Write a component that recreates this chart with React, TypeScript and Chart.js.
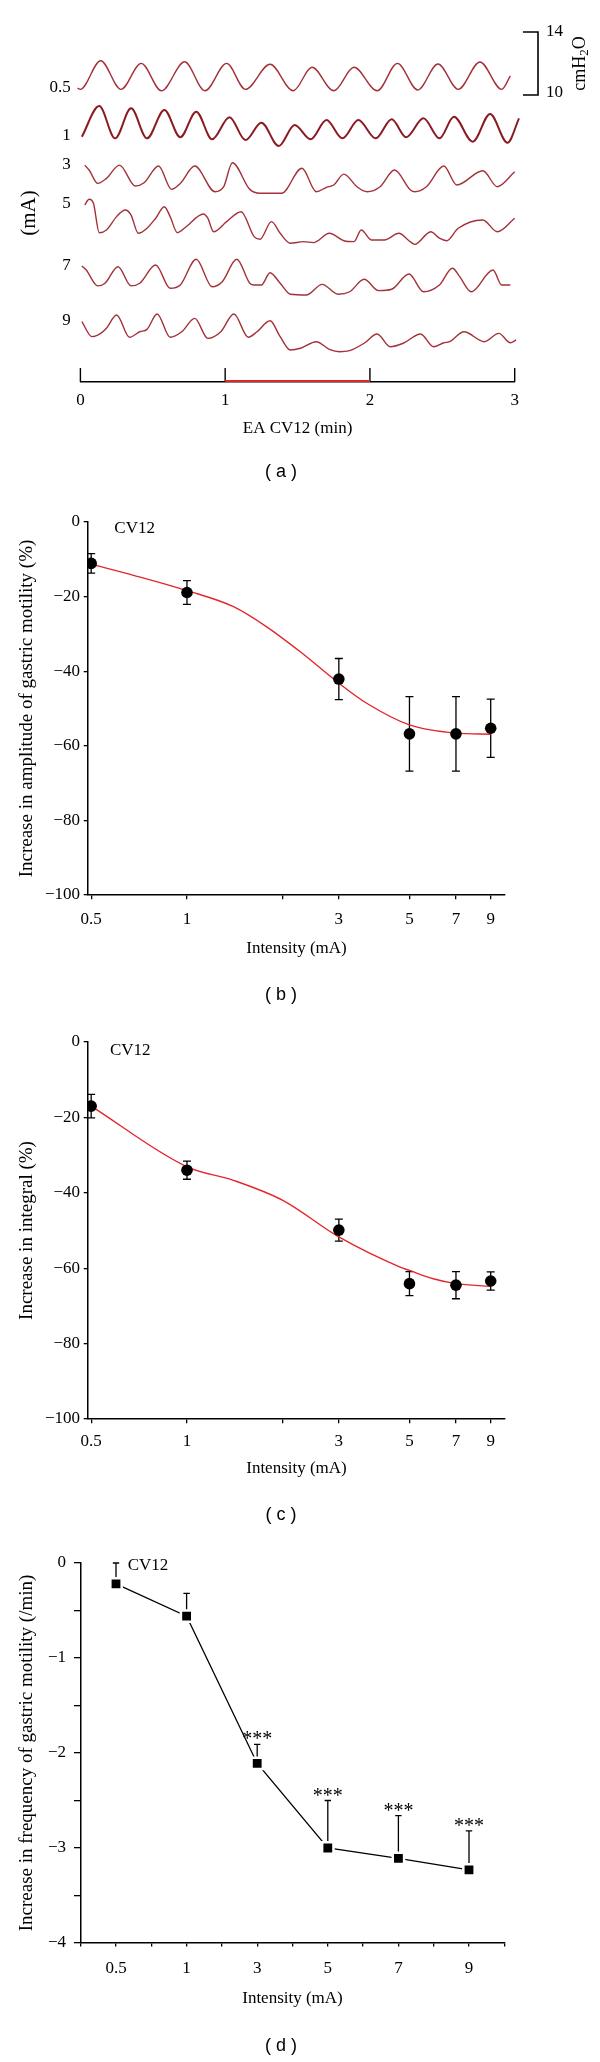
import React, { useEffect, useRef } from 'react';
import { Chart, registerables } from 'chart.js';

Chart.register(...registerables);

const SERIF = '"Liberation Serif", "Times New Roman", Times, serif';
const SANS = '"Liberation Sans", Arial, sans-serif';

// ---------------- Panel (a): intragastric pressure traces ----------------
const TRACE_LABELS = ['0.5', '1', '3', '5', '7', '9']; // intensity (mA)
const TIME_TICKS = [0, 1, 2, 3]; // min
const EA_PERIOD = [1, 2]; // min, EA applied to CV12
const SCALE_BAR = [10, 14]; // cmH2O

// time (min) / pressure (cmH2O) samples
const T_05 = [-0.02, 0.0, 0.14, 0.28, 0.42, 0.56, 0.72, 0.86, 1.01, 1.14, 1.31, 1.47, 1.6, 1.75, 1.89, 2.05, 2.19, 2.33, 2.47, 2.61, 2.76, 2.91, 2.97];
const P_05 = [10.43, 10.36, 12.18, 10.36, 12.01, 10.27, 12.11, 10.27, 12.01, 10.36, 11.95, 10.27, 11.76, 10.27, 11.76, 10.27, 12.01, 10.32, 11.97, 10.36, 12.1, 10.36, 11.21];

const T_1 = [0.01, 0.13, 0.24, 0.35, 0.46, 0.58, 0.69, 0.8, 0.91, 1.03, 1.14, 1.25, 1.37, 1.48, 1.59, 1.7, 1.81, 1.92, 2.04, 2.15, 2.25, 2.37, 2.48, 2.58, 2.71, 2.83, 2.95, 3.03];
const P_1 = [10.65, 12.6, 10.55, 12.46, 10.55, 12.35, 10.62, 12.24, 10.49, 11.89, 10.44, 11.54, 10.06, 11.4, 10.49, 11.71, 10.55, 11.71, 10.55, 11.76, 10.62, 11.82, 10.55, 11.92, 10.34, 12.1, 10.27, 11.82];

const T_3 = [0.03, 0.06, 0.12, 0.18, 0.27, 0.38, 0.44, 0.54, 0.63, 0.69, 0.79, 0.93, 0.99, 1.05, 1.17, 1.24, 1.39, 1.53, 1.63, 1.7, 1.75, 1.82, 1.91, 1.98, 2.07, 2.17, 2.28, 2.31, 2.39, 2.51, 2.6, 2.78, 2.88, 3.0];
const P_3 = [11.9, 11.59, 10.74, 11.06, 11.9, 10.57, 10.78, 11.84, 10.36, 10.74, 11.84, 10.21, 10.53, 12.05, 10.36, 10.11, 10.11, 11.7, 10.21, 10.49, 10.64, 11.33, 10.53, 10.21, 10.53, 11.59, 10.32, 10.21, 10.53, 11.84, 10.64, 11.54, 10.53, 11.48];

const T_5 = [0.03, 0.06, 0.09, 0.13, 0.18, 0.25, 0.31, 0.35, 0.4, 0.46, 0.52, 0.58, 0.62, 0.67, 0.73, 0.85, 0.88, 0.92, 1.01, 1.11, 1.2, 1.24, 1.32, 1.38, 1.45, 1.54, 1.61, 1.72, 1.82, 1.89, 1.94, 2.01, 2.1, 2.2, 2.27, 2.31, 2.42, 2.48, 2.53, 2.61, 2.78, 2.88, 3.0];
const P_5 = [12.54, 12.9, 12.65, 10.78, 10.95, 11.8, 12.22, 11.9, 10.74, 11.06, 11.7, 12.43, 11.8, 10.78, 11.16, 11.97, 11.7, 10.84, 11.48, 12.11, 10.53, 10.36, 11.48, 10.74, 10.11, 10.21, 10.15, 10.74, 10.27, 10.21, 10.95, 10.32, 10.32, 10.74, 10.27, 10.04, 10.84, 10.43, 10.27, 11.06, 11.59, 10.84, 11.7];

const T_7 = [0.01, 0.04, 0.12, 0.17, 0.26, 0.35, 0.41, 0.52, 0.62, 0.69, 0.8, 0.91, 0.98, 1.08, 1.17, 1.2, 1.25, 1.31, 1.38, 1.45, 1.56, 1.67, 1.78, 1.86, 1.96, 2.06, 2.15, 2.27, 2.37, 2.48, 2.57, 2.62, 2.7, 2.85, 2.91, 2.97];
const P_7 = [11.9, 11.65, 10.64, 10.81, 11.86, 10.64, 10.81, 11.97, 10.49, 10.7, 12.33, 10.59, 10.91, 12.33, 10.81, 10.7, 10.7, 11.48, 10.81, 10.11, 10.06, 10.74, 10.11, 10.27, 11.06, 10.34, 10.43, 11.4, 10.27, 10.7, 11.76, 11.23, 10.27, 11.65, 10.7, 10.7];

const T_9 = [0.01, 0.08, 0.14, 0.18, 0.25, 0.34, 0.41, 0.46, 0.53, 0.62, 0.7, 0.79, 0.88, 0.97, 1.06, 1.16, 1.22, 1.31, 1.38, 1.45, 1.52, 1.63, 1.72, 1.79, 1.86, 1.96, 2.05, 2.14, 2.23, 2.35, 2.44, 2.51, 2.55, 2.65, 2.79, 2.89, 2.97, 3.01];
const P_9 = [11.99, 11.04, 11.25, 11.57, 12.41, 11.0, 11.35, 11.5, 12.48, 11.0, 11.35, 12.2, 10.93, 11.35, 12.48, 11.0, 11.35, 12.05, 11.04, 10.19, 10.3, 10.72, 10.23, 10.08, 10.15, 10.62, 11.21, 10.4, 10.62, 11.21, 10.4, 10.65, 10.72, 11.35, 10.72, 11.25, 10.65, 10.83];

const TRACE_TIMES = [T_05, T_1, T_3, T_5, T_7, T_9];
const TRACE_PRESSURES = [P_05, P_1, P_3, P_5, P_7, P_9];
// vertical stacking of the traces (cmH2O), layout only
const TRACE_OFFSETS = [8.22, 4.92, 1.87, -1.3, -4.54, -8.16];

// ---------------- Panels (b), (c) ----------------
const INTENSITY = [0.5, 1, 3, 5, 7, 9]; // mA
const INTENSITY_TICKS = [0.5, 1, 2, 3, 5, 7, 9];

const AMP_MEAN = [-11.1, -18.9, -42.1, -56.8, -56.8, -55.3];
const AMP_ERR = [2.6, 3.2, 5.5, 10, 10, 7.8];
const AMP_FIT_X = [0.5, 0.68, 1, 1.4, 1.78, 2.27, 3, 3.67, 5, 7, 9];
const AMP_FIT_Y = [-11.3, -14.3, -18.4, -22.7, -28.1, -34.8, -43.2, -48.6, -54.4, -56.6, -56.9];

const INT_MEAN = [-17.0, -34.0, -49.9, -64.1, -64.5, -63.4];
const INT_ERR = [3.1, 2.4, 2.9, 3.2, 3.6, 2.4];
const INT_FIT_X = [0.5, 1, 1.4, 2.0, 3, 4.67, 5, 5.94, 7, 9];
const INT_FIT_Y = [-17.0, -33.1, -36.7, -42.0, -51.7, -59.7, -60.6, -62.8, -64.1, -64.8];

const PCT_TICKS = [-100, -80, -60, -40, -20, 0];

// ---------------- Panel (d) ----------------
const FREQ_CATS = ['0.5', '1', '3', '5', '7', '9'];
const FREQ_MEAN = [-0.22, -0.56, -2.11, -3.0, -3.11, -3.23];
const FREQ_ERR = [0.22, 0.24, 0.2, 0.5, 0.45, 0.41];
const FREQ_SIG = ['', '', '***', '***', '***', '***'];

// ---------------- helpers ----------------
const BLACK = '#000';
const CAPTION_X = 281;
const fmt = (v: number) => (v < 0 ? '\u2212' + Math.abs(v) : String(v));

function drawCaption(ctx: CanvasRenderingContext2D, text: string, x: number, y: number) {
  ctx.save();
  ctx.font = `18px ${SANS}`;
  ctx.fillStyle = BLACK;
  ctx.textAlign = 'center';
  ctx.textBaseline = 'middle';
  ctx.fillText(text, x, y);
  ctx.restore();
}

function drawText(ctx: CanvasRenderingContext2D, text: string, x: number, y: number, size: number, align: CanvasTextAlign = 'left') {
  ctx.save();
  ctx.font = `${size}px ${SERIF}`;
  ctx.fillStyle = BLACK;
  ctx.textAlign = align;
  ctx.textBaseline = 'middle';
  ctx.fillText(text, x, y);
  ctx.restore();
}

// ---------------- configs ----------------
function configA() {
  const datasets: any[] = TRACE_TIMES.map((ts, i) => ({
    label: TRACE_LABELS[i] + ' mA',
    data: ts.map((t, j) => ({ x: t, y: TRACE_PRESSURES[i][j] + TRACE_OFFSETS[i] })),
    borderColor: i === 1 ? '#8a1b22' : '#a3313a',
    borderWidth: i === 1 ? 2 : 1.4,
    borderJoinStyle: 'round',
    pointRadius: 0,
    cubicInterpolationMode: 'monotone',
    clip: false,
  }));
  const off = TRACE_OFFSETS[0];
  const barX = [3.057, 3.161]; // minutes, position of the calibration bracket
  datasets.push({
    label: 'scale',
    data: [
      { x: barX[0], y: SCALE_BAR[1] + off },
      { x: barX[1], y: SCALE_BAR[1] + off },
      { x: barX[1], y: SCALE_BAR[0] + off },
      { x: barX[0], y: SCALE_BAR[0] + off },
    ],
    borderColor: BLACK,
    borderWidth: 1.6,
    pointRadius: 0,
    tension: 0,
    clip: false,
  });

  const plugin = {
    id: 'panelA',
    afterDraw(chart: any) {
      const { ctx, chartArea } = chart;
      const x = chart.scales.x;
      const y = chart.scales.y;
      const base = chartArea.bottom;
      ctx.save();
      ctx.strokeStyle = BLACK;
      ctx.lineWidth = 1.4;
      TIME_TICKS.forEach((t) => {
        const px = x.getPixelForValue(t);
        ctx.beginPath();
        ctx.moveTo(px, base);
        ctx.lineTo(px, base - 14);
        ctx.stroke();
      });
      ctx.strokeStyle = '#e0262b';
      ctx.lineWidth = 2;
      ctx.beginPath();
      ctx.moveTo(x.getPixelForValue(EA_PERIOD[0]), base - 1);
      ctx.lineTo(x.getPixelForValue(EA_PERIOD[1]), base - 1);
      ctx.stroke();
      ctx.restore();

      TRACE_LABELS.forEach((lab, i) => {
        const py = y.getPixelForValue(TRACE_PRESSURES[i][0] + TRACE_OFFSETS[i]);
        drawText(ctx, lab, chartArea.left - 9.6, py - 1, 17, 'right');
      });

      const lx = x.getPixelForValue(barX[1]) + 8;
      drawText(ctx, String(SCALE_BAR[1]), lx, y.getPixelForValue(SCALE_BAR[1] + off), 17);
      drawText(ctx, String(SCALE_BAR[0]), lx, y.getPixelForValue(SCALE_BAR[0] + off) - 2, 17);

      // cmH2O (rotated)
      const cx = x.getPixelForValue(3.451);
      const cy = y.getPixelForValue((SCALE_BAR[0] + SCALE_BAR[1]) / 2 + off);
      ctx.save();
      ctx.translate(cx, cy);
      ctx.rotate(-Math.PI / 2);
      ctx.fillStyle = BLACK;
      ctx.textAlign = 'left';
      ctx.textBaseline = 'middle';
      const big = `18px ${SERIF}`;
      const small = `13px ${SERIF}`;
      ctx.font = big;
      const w1 = ctx.measureText('cmH').width;
      const w3 = ctx.measureText('O').width;
      ctx.font = small;
      const w2 = ctx.measureText('2').width;
      let sx = -(w1 + w2 + w3) / 2;
      ctx.font = big;
      ctx.fillText('cmH', sx, 0);
      sx += w1;
      ctx.font = small;
      ctx.fillText('2', sx, 5);
      sx += w2;
      ctx.font = big;
      ctx.fillText('O', sx, 0);
      ctx.restore();

      drawText(ctx, 'EA CV12 (min)', x.getPixelForValue((EA_PERIOD[0] + EA_PERIOD[1]) / 2), 429, 17, 'center');
      drawCaption(ctx, '( a )', CAPTION_X, 472);
    },
  };

  return {
    type: 'line',
    data: { datasets },
    options: {
      responsive: false,
      animation: false,
      devicePixelRatio: 1,
      layout: { padding: { top: 44, left: 0, right: 85.3, bottom: 50.8 } },
      plugins: { legend: { display: false }, tooltip: { enabled: false } },
      scales: {
        x: {
          type: 'linear',
          min: 0,
          max: 3,
          afterBuildTicks: (s: any) => {
            s.ticks = TIME_TICKS.map((v) => ({ value: v }));
          },
          afterFit: (s: any) => {
            s.height = 57.2;
          },
          grid: { display: false, drawTicks: false },
          border: { display: true, color: BLACK, width: 1.4 },
          ticks: {
            font: { family: SERIF, size: 17 },
            color: BLACK,
            padding: 8.6,
            maxRotation: 0,
            autoSkip: false,
            callback: (v: any) => String(v),
          },
          title: { display: false },
        },
        y: {
          type: 'linear',
          min: 0,
          max: 21.46,
          afterFit: (s: any) => {
            s.width = 80.4;
          },
          grid: { display: false, drawTicks: false },
          border: { display: false },
          ticks: { display: false },
          title: {
            display: true,
            text: '(mA)',
            font: { family: SERIF, size: 21 },
            color: BLACK,
            padding: { top: 16.9, bottom: 0 },
          },
        },
      },
    },
    plugins: [plugin],
  };
}

function doseConfig(p: {
  mean: number[];
  err: number[];
  fitX: number[];
  fitY: number[];
  yTitle: string;
  caption: string;
  captionY: number;
  cvX: number;
  cvY: number;
  padTop: number;
  padBottom: number;
  xHeight: number;
  xTickPad: number;
}) {
  const plugin = {
    id: 'doseExtras',
    beforeDatasetsDraw(chart: any) {
      const { ctx } = chart;
      const x = chart.scales.x;
      const y = chart.scales.y;
      ctx.save();
      ctx.strokeStyle = BLACK;
      ctx.lineWidth = 1.3;
      INTENSITY.forEach((iv, i) => {
        const px = x.getPixelForValue(iv);
        const t = y.getPixelForValue(p.mean[i] + p.err[i]);
        const b = y.getPixelForValue(p.mean[i] - p.err[i]);
        ctx.beginPath();
        ctx.moveTo(px, t);
        ctx.lineTo(px, b);
        ctx.moveTo(px - 4, t);
        ctx.lineTo(px + 4, t);
        ctx.moveTo(px - 4, b);
        ctx.lineTo(px + 4, b);
        ctx.stroke();
      });
      ctx.restore();
    },
    afterDraw(chart: any) {
      const { ctx } = chart;
      drawText(ctx, 'CV12', p.cvX, p.cvY, 17, 'left');
      drawCaption(ctx, p.caption, CAPTION_X, p.captionY);
    },
  };

  return {
    type: 'line',
    data: {
      datasets: [
        {
          label: 'mean',
          data: INTENSITY.map((v, i) => ({ x: v, y: p.mean[i] })),
          showLine: false,
          pointRadius: 5.8,
          pointHoverRadius: 5.8,
          pointBackgroundColor: BLACK,
          pointBorderWidth: 0,
          borderColor: BLACK,
        },
        {
          label: 'fit',
          data: p.fitX.map((v, i) => ({ x: v, y: p.fitY[i] })),
          borderColor: '#e3262b',
          borderWidth: 1.4,
          pointRadius: 0,
          cubicInterpolationMode: 'monotone',
          fill: false,
        },
      ],
    },
    options: {
      responsive: false,
      animation: false,
      devicePixelRatio: 1,
      layout: { padding: { top: p.padTop, left: 0, right: 95, bottom: p.padBottom } },
      plugins: { legend: { display: false }, tooltip: { enabled: false } },
      scales: {
        x: {
          type: 'logarithmic',
          min: 0.4887,
          max: 9.98,
          afterBuildTicks: (s: any) => {
            s.ticks = INTENSITY_TICKS.map((v) => ({ value: v }));
          },
          afterFit: (s: any) => {
            s.height = p.xHeight;
          },
          grid: { display: true, drawOnChartArea: false, drawTicks: true, tickLength: 4.3, color: BLACK, lineWidth: 1.3 },
          border: { display: true, color: BLACK, width: 1.5 },
          ticks: {
            font: { family: SERIF, size: 17 },
            color: BLACK,
            padding: p.xTickPad,
            maxRotation: 0,
            autoSkip: false,
            callback: (v: any) => (INTENSITY.includes(Number(v)) ? String(v) : ''),
          },
          title: {
            display: true,
            text: 'Intensity (mA)',
            font: { family: SERIF, size: 17 },
            color: BLACK,
            padding: { top: 0, bottom: 0 },
          },
        },
        y: {
          type: 'linear',
          min: -100,
          max: 0,
          afterBuildTicks: (s: any) => {
            s.ticks = PCT_TICKS.map((v) => ({ value: v }));
          },
          afterFit: (s: any) => {
            s.width = 88;
          },
          grid: { display: true, drawOnChartArea: false, drawTicks: true, tickLength: 4.3, color: BLACK, lineWidth: 1.3 },
          border: { display: true, color: BLACK, width: 1.5 },
          ticks: {
            font: { family: SERIF, size: 17 },
            color: BLACK,
            padding: 3.7,
            autoSkip: false,
            callback: (v: any) => fmt(Number(v)),
          },
          title: {
            display: true,
            text: p.yTitle,
            font: { family: SERIF, size: 19 },
            color: BLACK,
            padding: { top: 15.6, bottom: 0 },
          },
        },
      },
    },
    plugins: [plugin],
  };
}

function configD() {
  const xs = FREQ_CATS.map((_, i) => i);
  const xTicks: number[] = [];
  for (let v = -0.5; v <= FREQ_CATS.length - 0.5 + 1e-9; v += 0.5) xTicks.push(v);
  const yTicks: number[] = [];
  for (let v = -4; v <= 1e-9; v += 0.5) yTicks.push(v);

  const plugin = {
    id: 'freqExtras',
    beforeDatasetsDraw(chart: any) {
      const { ctx } = chart;
      const x = chart.scales.x;
      const y = chart.scales.y;
      ctx.save();
      ctx.strokeStyle = BLACK;
      ctx.lineWidth = 1.3;
      xs.forEach((xv, i) => {
        const px = x.getPixelForValue(xv);
        const t = y.getPixelForValue(FREQ_MEAN[i] + FREQ_ERR[i]);
        const m = y.getPixelForValue(FREQ_MEAN[i]);
        ctx.beginPath();
        ctx.moveTo(px, m);
        ctx.lineTo(px, t);
        ctx.moveTo(px - 3.2, t);
        ctx.lineTo(px + 3.2, t);
        ctx.stroke();
      });
      ctx.restore();
    },
    afterDatasetsDraw(chart: any) {
      const { ctx } = chart;
      const x = chart.scales.x;
      const y = chart.scales.y;
      ctx.save();
      ctx.font = `20px ${SERIF}`;
      ctx.fillStyle = BLACK;
      ctx.textAlign = 'center';
      ctx.textBaseline = 'alphabetic';
      xs.forEach((xv, i) => {
        if (!FREQ_SIG[i]) return;
        const px = x.getPixelForValue(xv);
        const t = y.getPixelForValue(FREQ_MEAN[i] + FREQ_ERR[i]);
        ctx.fillText(FREQ_SIG[i], px, t + 1);
      });
      ctx.restore();
    },
    afterDraw(chart: any) {
      const { ctx } = chart;
      drawText(ctx, 'CV12', 127.7, 41, 17, 'left');
      drawCaption(ctx, '( d )', CAPTION_X, 521);
    },
  };

  return {
    type: 'line',
    data: {
      datasets: [
        {
          label: 'frequency',
          data: xs.map((xv, i) => ({ x: xv, y: FREQ_MEAN[i] })),
          borderColor: BLACK,
          borderWidth: 1.3,
          tension: 0,
          pointStyle: 'rect',
          pointRadius: 8,
          pointHoverRadius: 8,
          pointBackgroundColor: BLACK,
          pointBorderColor: '#fff',
          pointBorderWidth: 2.5,
        },
      ],
    },
    options: {
      responsive: false,
      animation: false,
      devicePixelRatio: 1,
      layout: { padding: { top: 38, left: 0, right: 95.7, bottom: 52.8 } },
      plugins: { legend: { display: false }, tooltip: { enabled: false } },
      scales: {
        x: {
          type: 'linear',
          min: -0.5,
          max: FREQ_CATS.length - 0.5,
          afterBuildTicks: (s: any) => {
            s.ticks = xTicks.map((v) => ({ value: v }));
          },
          afterFit: (s: any) => {
            s.height = 66.2;
          },
          grid: { display: true, drawOnChartArea: false, drawTicks: true, tickLength: 3.5, color: BLACK, lineWidth: 1.3 },
          border: { display: true, color: BLACK, width: 1.5 },
          ticks: {
            font: { family: SERIF, size: 17 },
            color: BLACK,
            padding: 12.3,
            maxRotation: 0,
            autoSkip: false,
            callback: (v: any) => {
              const n = Number(v);
              return Number.isInteger(n) && n >= 0 && n < FREQ_CATS.length ? FREQ_CATS[n] : '';
            },
          },
          title: {
            display: true,
            text: 'Intensity (mA)',
            font: { family: SERIF, size: 17 },
            color: BLACK,
            padding: { top: 0, bottom: 0 },
          },
        },
        y: {
          type: 'linear',
          min: -4,
          max: 0,
          afterBuildTicks: (s: any) => {
            s.ticks = yTicks.map((v) => ({ value: v }));
          },
          afterFit: (s: any) => {
            s.width = 80.7;
          },
          grid: { display: true, drawOnChartArea: false, drawTicks: true, tickLength: 6.7, color: BLACK, lineWidth: 1.3 },
          border: { display: true, color: BLACK, width: 1.5 },
          ticks: {
            font: { family: SERIF, size: 17 },
            color: BLACK,
            padding: 8,
            autoSkip: false,
            callback: (v: any) => {
              const n = Number(v);
              return Number.isInteger(n) ? fmt(n) : '';
            },
          },
          title: {
            display: true,
            text: 'Increase in frequency of gastric motility (/min)',
            font: { family: SERIF, size: 19 },
            color: BLACK,
            padding: { top: 15.6, bottom: 0 },
          },
        },
      },
    },
    plugins: [plugin],
  };
}

const configB = () =>
  doseConfig({
    mean: AMP_MEAN,
    err: AMP_ERR,
    fitX: AMP_FIT_X,
    fitY: AMP_FIT_Y,
    yTitle: 'Increase in amplitude of gastric motility (%)',
    caption: '( b )',
    captionY: 505,
    cvX: 114.3,
    cvY: 38.5,
    padTop: 32,
    padBottom: 51,
    xHeight: 64,
    xTickPad: 10,
  });

const configC = () =>
  doseConfig({
    mean: INT_MEAN,
    err: INT_ERR,
    fitX: INT_FIT_X,
    fitY: INT_FIT_Y,
    yTitle: 'Increase in integral (%)',
    caption: '( c )',
    captionY: 505,
    cvX: 110,
    cvY: 40.3,
    padTop: 32,
    padBottom: 45.8,
    xHeight: 60.2,
    xTickPad: 8.5,
  });

function ChartCanvas({ top, height, make }: { top: number; height: number; make: () => any }) {
  const ref = useRef<HTMLCanvasElement>(null);
  useEffect(() => {
    if (!ref.current) return;
    const chart = new Chart(ref.current, make());
    return () => chart.destroy();
  }, []);
  return (
    <canvas
      ref={ref}
      width={600}
      height={height}
      style={{ position: 'absolute', left: 0, top, width: 600, height, display: 'block' }}
    />
  );
}

export default function App() {
  return (
    <div style={{ position: 'absolute', left: 0, top: 0, width: 600, height: 2062, background: '#fff' }}>
      <ChartCanvas top={0} height={490} make={configA} />
      <ChartCanvas top={490} height={520} make={configB} />
      <ChartCanvas top={1010} height={515} make={configC} />
      <ChartCanvas top={1525} height={537} make={configD} />
    </div>
  );
}
